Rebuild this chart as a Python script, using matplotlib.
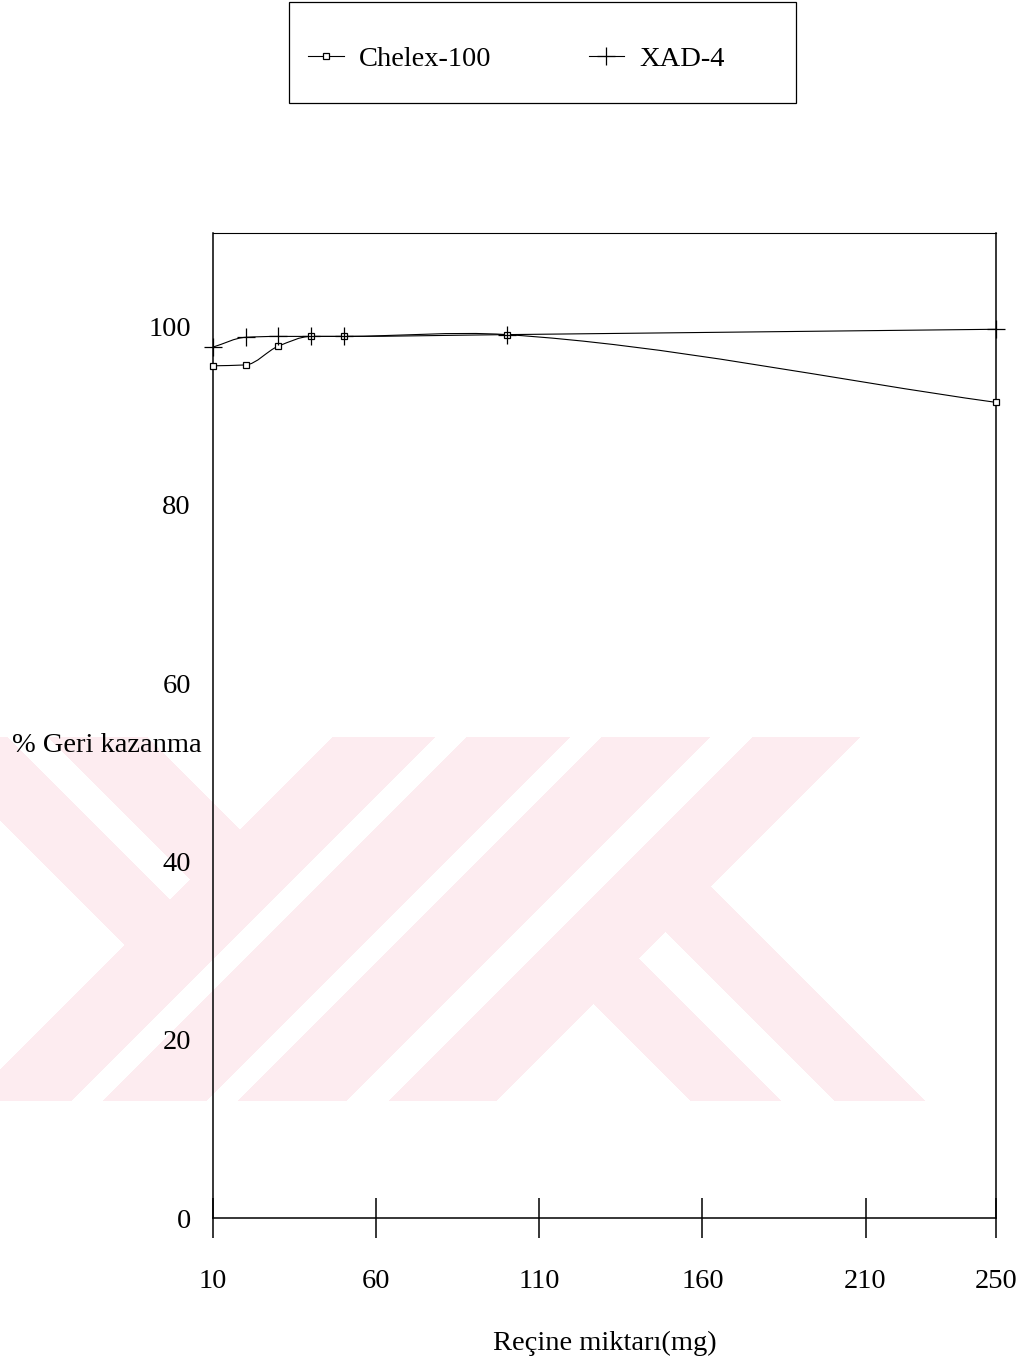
import numpy as np
import matplotlib
matplotlib.use('Agg')
import matplotlib.pyplot as plt
from matplotlib.path import Path
from matplotlib.patches import PathPatch, Rectangle
from matplotlib.lines import Line2D

plt.rcParams['font.family'] = ['Liberation Serif', 'DejaVu Serif']

# resin amount (mg) and % recovery for both resins
resin_mg = [10, 20, 30, 40, 50, 100, 250]
chelex = [95.6, 95.7, 97.8, 98.9, 98.9, 99.1, 91.5]
xad = [97.7, 98.8, 98.9, 98.9, 98.9, 99.1, 99.7]

x_ticks = [10, 60, 110, 160, 210, 250]
y_ticks = [0, 20, 40, 60, 80, 100]

W, H = 1024, 1365
FS = 20.5


def smooth_path(xs, ys):
    # monotone cubic (pchip-style slopes) written as bezier segments
    xs = np.asarray(xs, float)
    ys = np.asarray(ys, float)
    h = np.diff(xs)
    delta = np.diff(ys) / h
    n = len(xs)
    m = np.zeros(n)
    m[0], m[-1] = delta[0], delta[-1]
    for k in range(1, n - 1):
        if delta[k - 1] * delta[k] <= 0:
            m[k] = 0.5 * (delta[k - 1] + delta[k]) if k == n - 2 else 0.0
        else:
            w1 = 2 * h[k] + h[k - 1]
            w2 = h[k] + 2 * h[k - 1]
            m[k] = (w1 + w2) / (w1 / delta[k - 1] + w2 / delta[k])
    verts = [(xs[0], ys[0])]
    codes = [Path.MOVETO]
    for k in range(n - 1):
        d = h[k] / 3
        verts += [(xs[k] + d, ys[k] + m[k] * d),
                  (xs[k + 1] - d, ys[k + 1] - m[k + 1] * d),
                  (xs[k + 1], ys[k + 1])]
        codes += [Path.CURVE4] * 3
    return Path(verts, codes)


fig = plt.figure(figsize=(W / 100, H / 100), dpi=100, facecolor='white')

# faint diagonal stamp behind the plot
yy, xx = np.mgrid[0:H, 0:W] + 0.5
s = xx + yy
d = xx - yy
stamp = ((d >= -820) & (d <= -590) & (s < 1072) & ~((d > -730) & (d < -689)))
stamp |= (s >= 1070) & (s <= 1172)
stamp |= (s >= 1204) & (s <= 1307)
stamp |= (s >= 1339) & (s <= 1447)
stamp |= (s >= 1490) & (s <= 1597)
stamp |= (s > 1597) & (((d >= -410) & (d <= -320)) | ((d >= -266) & (d <= -176)))
stamp &= (yy >= 737) & (yy <= 1101)
rgba = np.zeros((H, W, 4))
rgba[stamp] = [253 / 255, 236 / 255, 240 / 255, 1.0]
img = fig.figimage(rgba, xo=0, yo=0, origin='upper')
img.set_zorder(-1)

ax = fig.add_axes([213 / W, 1 - 1218 / H, (996 - 213) / W, (1218 - 233) / H])
ax.set_facecolor('none')
ax.set_zorder(1)

ax.add_patch(PathPatch(smooth_path(resin_mg, chelex), fill=False, ec='black', lw=0.8))
ax.add_patch(PathPatch(smooth_path(resin_mg, xad), fill=False, ec='black', lw=0.8))
ax.plot(resin_mg, chelex, ls='none', marker='s', ms=4.5, mfc='white', mec='black',
        mew=0.9, clip_on=False, zorder=4)
ax.plot(resin_mg, xad, ls='none', marker='+', ms=13, mec='black', mew=0.9,
        clip_on=False, zorder=4)

ax.set_xlim(10, 250)
ax.set_ylim(0, 110.5)
ax.set_xticks(x_ticks)
ax.set_xticklabels([str(v) for v in x_ticks])
ax.set_yticks(y_ticks)
ax.set_yticklabels([str(v) for v in y_ticks])
ax.tick_params(axis='x', direction='inout', length=29, width=1.1, pad=22, labelsize=FS)
ax.tick_params(axis='y', length=0, pad=16, labelsize=FS)
for sp in ax.spines.values():
    sp.set_linewidth(1.1)
ax.spines['top'].set_linewidth(0.8)

fig.text(12 / W, 1 - 746 / H, '% Geri kazanma', fontsize=FS, ha='left', va='center')
fig.text(605 / W, 1 - 1343 / H, 'Reçine miktarı(mg)', fontsize=FS, ha='center', va='center')

# legend box above the plot
fig.add_artist(Rectangle((289 / W, 1 - 103 / H), 507 / W, 101 / H, transform=fig.transFigure,
                         fill=False, ec='black', lw=0.9))
h_chelex = Line2D([], [], color='black', lw=0.8, marker='s', ms=4.5, mfc='white',
                  mec='black', mew=0.9)
h_xad = Line2D([], [], color='black', lw=0.8, marker='+', ms=13, mew=0.9)
leg = fig.legend(handles=[h_chelex, h_xad], labels=['Chelex-100', 'XAD-4'],
                 loc='center left', bbox_to_anchor=(308 / W, 1 - 59 / H), ncol=2,
                 frameon=False, borderpad=0, borderaxespad=0, handlelength=1.25,
                 handletextpad=0.55, columnspacing=3.4, fontsize=FS)

fig.savefig('out.png', dpi=100)
